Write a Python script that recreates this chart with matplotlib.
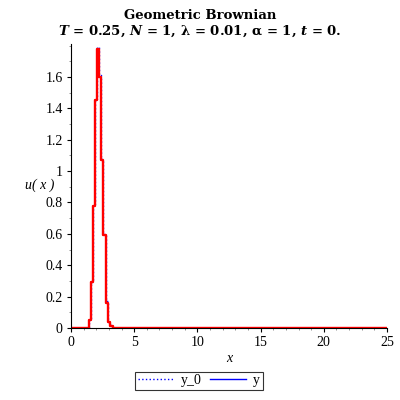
import numpy as np
import matplotlib
matplotlib.use('Agg')
import matplotlib.pyplot as plt
from matplotlib.lines import Line2D
from matplotlib.ticker import MultipleLocator

# step data (left edges of each step)
x_edges = [0.0, 1.40, 1.56, 1.72, 1.88, 2.04, 2.22, 2.41, 2.57, 2.74, 2.92, 3.10, 3.30, 25.0]
u_vals = [0.0, 0.05, 0.29, 0.78, 1.45, 1.78, 1.60, 1.07, 0.59, 0.16, 0.04, 0.01, 0.0, 0.0]
y0_vals = [0.0, 0.05, 0.29, 0.79, 1.46, 1.79, 1.61, 1.08, 0.60, 0.17, 0.04, 0.01, 0.0, 0.0]

plt.rcParams['font.family'] = ['Liberation Serif', 'DejaVu Serif']
plt.rcParams['mathtext.fontset'] = 'dejavuserif'

fig = plt.figure(figsize=(4, 4), dpi=100)
ax = fig.add_axes([0.1775, 0.18, 0.79, 0.71])

ax.step(x_edges, y0_vals, where='post', color='blue', lw=1.0, ls=':')
ax.step(x_edges, u_vals, where='post', color='red', lw=1.7)

ax.set_xlim(0, 25)
ax.set_ylim(0, 1.81)
ax.xaxis.set_major_locator(MultipleLocator(5))
ax.xaxis.set_minor_locator(MultipleLocator(1))
ax.yaxis.set_minor_locator(MultipleLocator(0.1))
ax.set_yticks([0, 0.2, 0.4, 0.6, 0.8, 1, 1.2, 1.4, 1.6])
ax.set_yticklabels(['0', '0.2', '0.4', '0.6', '0.8', '1', '1.2', '1.4', '1.6'])

for s in ['top', 'right']:
    ax.spines[s].set_visible(False)
ax.tick_params(which='major', direction='out', length=3, width=0.8, labelsize=10, pad=3)
ax.tick_params(which='minor', direction='out', length=1.5, width=0.6, color='gray')

ax.set_xlabel('x', fontsize=10, labelpad=2, style='italic')
fig.text(0.1, 0.537, 'u( x )', fontsize=10, style='italic', ha='center', va='center')

fig.text(0.5, 0.962, 'Geometric Brownian', ha='center', va='center', fontsize=9.5,
         fontweight='bold', family='DejaVu Serif')
fig.text(0.5, 0.922, r'$\mathbfit{T}$ = 0.25, $\mathbfit{N}$ = 1, $\mathbf{\lambda}$ = 0.01, '
         r'$\mathbf{\alpha}$ = 1, $\mathbfit{t}$ = 0.',
         ha='center', va='center', fontsize=9.5, fontweight='bold', family='DejaVu Serif')

handles = [Line2D([], [], color='blue', ls=':', lw=1.0),
           Line2D([], [], color='blue', ls='-', lw=1.0)]
leg = fig.legend(handles, ['y_0', 'y'], loc='center', bbox_to_anchor=(0.4975, 0.048),
                 ncol=2, frameon=True, fancybox=False, fontsize=10, handlelength=2.6,
                 borderpad=0.2, columnspacing=0.6, handletextpad=0.5)
leg.get_frame().set_edgecolor('black')
leg.get_frame().set_linewidth(0.8)

fig.savefig('out.png', dpi=100)
